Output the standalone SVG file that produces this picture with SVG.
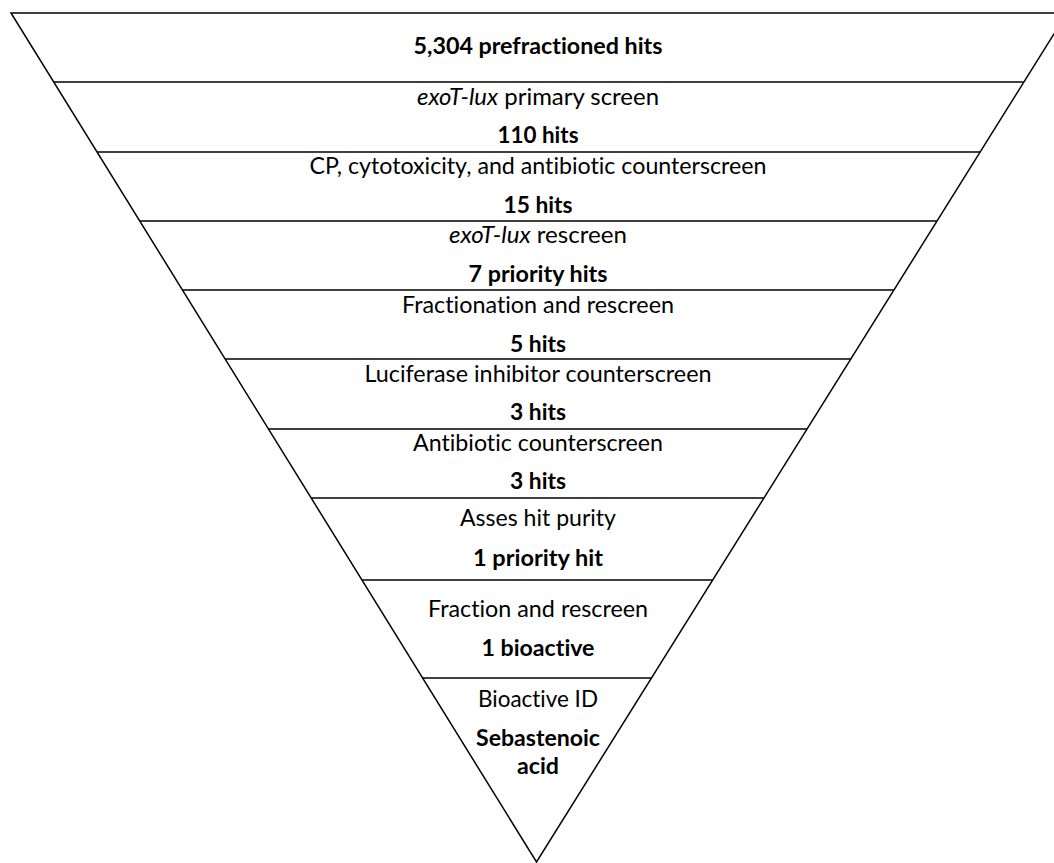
<svg xmlns="http://www.w3.org/2000/svg" width="1054" height="863" viewBox="0 0 1054 863">
<style>
.edge{stroke:#000;stroke-width:1.5;fill:none}
.div{stroke:#000;stroke-width:1.5}
text{font-family:Lato,"Liberation Sans",sans-serif;font-size:23px;fill:#000;text-anchor:middle;font-variant-ligatures:none}
.b{font-weight:bold}
.i{font-style:italic}
</style>
<rect width="1054" height="863" fill="#fff"/>
<g id="funnel">
<polygon class="edge" points="11,13 1067,13 536.5,862"/>
</g>
<g id="dividers">
<line class="div" x1="53.7" y1="82" x2="1023.9" y2="82"/>
<line class="div" x1="97" y1="152" x2="980.1" y2="152"/>
<line class="div" x1="139.7" y1="221" x2="937" y2="221"/>
<line class="div" x1="182.5" y1="290" x2="893.9" y2="290"/>
<line class="div" x1="225.2" y1="359" x2="850.8" y2="359"/>
<line class="div" x1="268.5" y1="429" x2="807" y2="429"/>
<line class="div" x1="311.2" y1="498" x2="763.9" y2="498"/>
<line class="div" x1="362" y1="580" x2="712.7" y2="580"/>
<line class="div" x1="422.7" y1="678" x2="651.5" y2="678"/>
</g>
<g id="stage0">
<text class="b" x="538" y="54" textLength="249" lengthAdjust="spacingAndGlyphs">5,304 prefractioned hits</text>
</g>
<g id="stage1">
<text x="538" y="105" textLength="242" lengthAdjust="spacingAndGlyphs"><tspan class="i">exoT-lux</tspan> primary screen</text>
<text class="b" x="538" y="143" textLength="81" lengthAdjust="spacingAndGlyphs">110 hits</text>
</g>
<g id="stage2">
<text x="538" y="174" textLength="457" lengthAdjust="spacingAndGlyphs">CP, cytotoxicity, and antibiotic counterscreen</text>
<text class="b" x="538" y="213" textLength="69" lengthAdjust="spacingAndGlyphs">15 hits</text>
</g>
<g id="stage3">
<text x="538" y="243" textLength="178" lengthAdjust="spacingAndGlyphs"><tspan class="i">exoT-lux</tspan> rescreen</text>
<text class="b" x="538" y="282" textLength="139" lengthAdjust="spacingAndGlyphs">7 priority hits</text>
</g>
<g id="stage4">
<text x="538" y="313" textLength="272" lengthAdjust="spacingAndGlyphs">Fractionation and rescreen</text>
<text class="b" x="538" y="352" textLength="56" lengthAdjust="spacingAndGlyphs">5 hits</text>
</g>
<g id="stage5">
<text x="538" y="382" textLength="347" lengthAdjust="spacingAndGlyphs">Luciferase inhibitor counterscreen</text>
<text class="b" x="538" y="420" textLength="56" lengthAdjust="spacingAndGlyphs">3 hits</text>
</g>
<g id="stage6">
<text x="538" y="451" textLength="250" lengthAdjust="spacingAndGlyphs">Antibiotic counterscreen</text>
<text class="b" x="538" y="489" textLength="56" lengthAdjust="spacingAndGlyphs">3 hits</text>
</g>
<g id="stage7">
<text x="538" y="526" textLength="156" lengthAdjust="spacingAndGlyphs">Asses hit purity</text>
<text class="b" x="538" y="566" textLength="130" lengthAdjust="spacingAndGlyphs">1 priority hit</text>
</g>
<g id="stage8">
<text x="538" y="617" textLength="220" lengthAdjust="spacingAndGlyphs">Fraction and rescreen</text>
<text class="b" x="538" y="656" textLength="113" lengthAdjust="spacingAndGlyphs">1 bioactive</text>
</g>
<g id="stage9">
<text x="538" y="707" textLength="120" lengthAdjust="spacingAndGlyphs">Bioactive ID</text>
<text class="b" x="538" y="746" textLength="124" lengthAdjust="spacingAndGlyphs">Sebastenoic</text>
<text class="b" x="538" y="774" textLength="42" lengthAdjust="spacingAndGlyphs">acid</text>
</g>
</svg>
